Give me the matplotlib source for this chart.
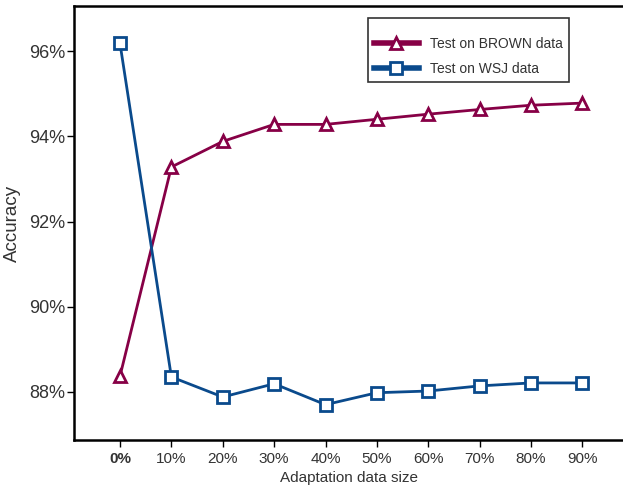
import numpy as np
import matplotlib.pyplot as plt

plt.rcParams['font.family'] = ['Liberation Sans', 'DejaVu Sans']

sizes = ['0%', '10%', '20%', '30%', '40%', '50%', '60%', '70%', '80%', '90%']
brown_acc = [88.37, 93.28, 93.88, 94.28, 94.28, 94.40, 94.52, 94.63, 94.73, 94.78]
wsj_acc = [96.18, 88.35, 87.88, 88.19, 87.70, 87.98, 88.02, 88.14, 88.21, 88.21]
yticks = [88, 90, 92, 94, 96]

brown_col = '#870046'
wsj_col = '#0a4a8c'
txt_col = '#333333'

fig = plt.figure(figsize=(6.23, 4.87), dpi=100)
ax = fig.add_axes([0.1188, 0.0965, 0.8812, 0.8912])

x = np.arange(len(sizes))
ax.plot(x, brown_acc, color=brown_col, lw=2, marker='^', ms=8, mfc='white',
        mec=brown_col, mew=2, label='Test on BROWN data')
ax.plot(x, wsj_acc, color=wsj_col, lw=2, marker='s', ms=8, mfc='white',
        mec=wsj_col, mew=2, label='Test on WSJ data')

ax.set_xlim(-0.895, 9.79)
ax.set_ylim(86.87, 97.06)
ax.set_xticks(x)
ax.set_xticklabels(sizes)
ax.get_xticklabels()[0].set_fontweight('bold')
ax.set_yticks(yticks)
ax.set_yticklabels(['%d%%' % v for v in yticks])

ax.tick_params(direction='out', length=5, width=1, colors='black',
               labelcolor=txt_col)
ax.tick_params(axis='y', labelsize=13, pad=1.5)
ax.tick_params(axis='x', labelsize=11)
ax.spines['right'].set_visible(False)
for s in ['left', 'bottom', 'top']:
    ax.spines[s].set_linewidth(1.8)

ax.set_xlabel('Adaptation data size', fontsize=11, color=txt_col, labelpad=4)
ax.set_ylabel('Accuracy', fontsize=13.5, color=txt_col)
ax.yaxis.set_label_coords(-0.0965, 0.5)

leg = ax.legend(loc='upper left', bbox_to_anchor=(0.5355, 0.972), fontsize=10,
                frameon=True, fancybox=False, edgecolor='black',
                title=' ', title_fontsize=1,
                borderpad=0.45, handlelength=3.2, handletextpad=0.8,
                labelspacing=0.8, borderaxespad=0)
leg.get_frame().set_linewidth(1.2)
for h in leg.get_lines():
    h.set_linewidth(4)
for t in leg.get_texts():
    t.set_color(txt_col)

fig.savefig('out.png', dpi=100)
